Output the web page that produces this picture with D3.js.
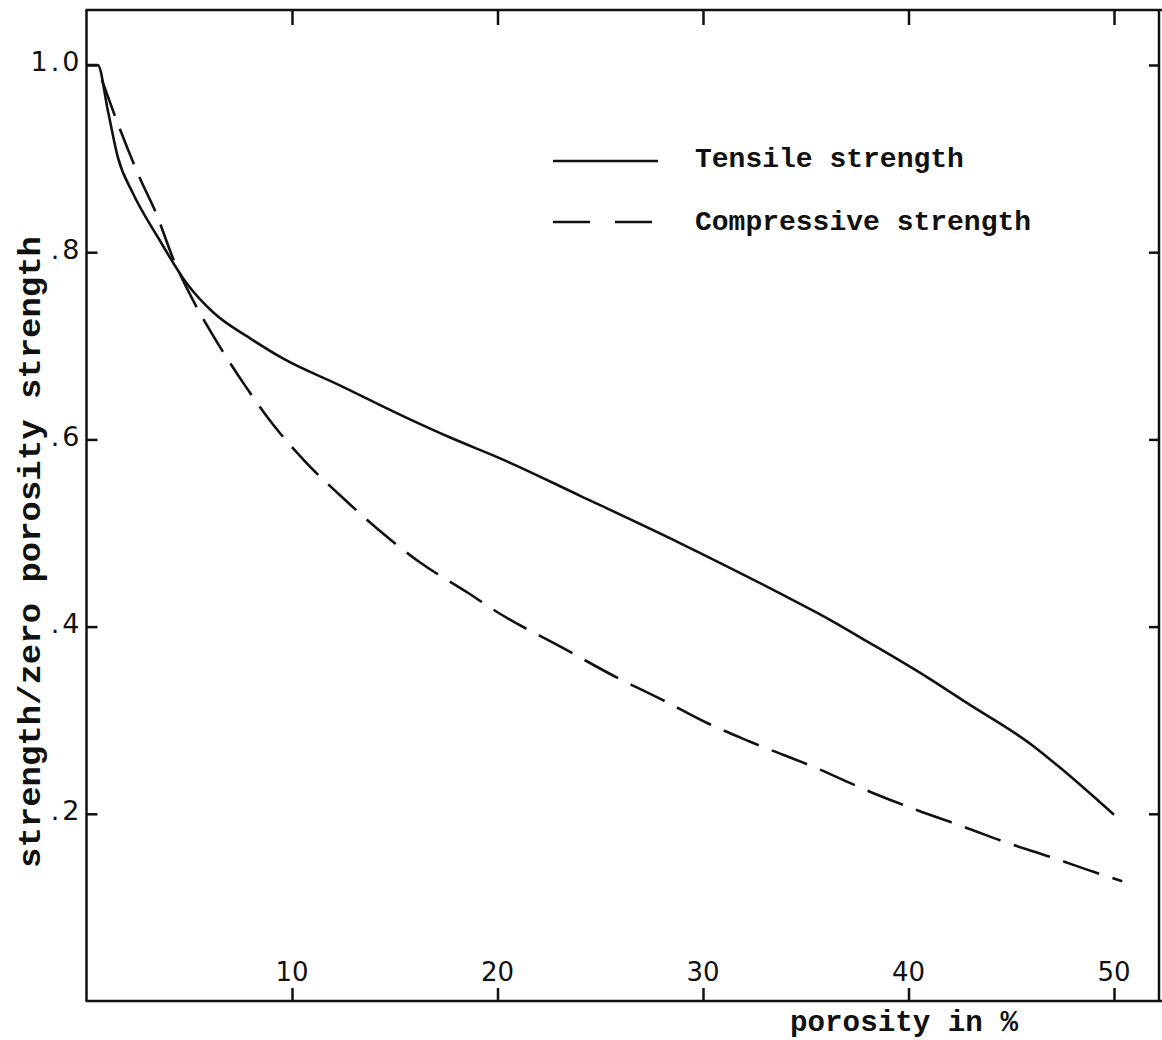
<!DOCTYPE html>
<html>
<head>
<meta charset="utf-8">
<script src="https://cdn.jsdelivr.net/npm/d3@7"></script>
<style>
  html, body { margin: 0; padding: 0; background: #fff; }
  svg { display: block; }
</style>
</head>
<body>
<svg id="chart" width="1162" height="1040"></svg>
<script>
// ---- data ----
const tensileX = [0, 0.55, 1.05, 1.53, 2.26, 3.5, 4.9, 6.2, 7.96, 9.6, 12.3, 15.3, 17.7, 20.1, 24.0, 28.9, 33.7, 36.2, 38.0, 40.9, 42.8, 46.1, 47.5, 50.0];
const tensileY = [1.0, 1.0, 0.950, 0.901, 0.863, 0.815, 0.766, 0.735, 0.708, 0.686, 0.658, 0.626, 0.602, 0.580, 0.540, 0.489, 0.436, 0.407, 0.384, 0.346, 0.319, 0.272, 0.247, 0.199];

const compressiveX = [0.75, 1.6, 2.6, 3.4, 4.2, 5.2, 6.35, 7.7, 9.0, 10.7, 12.6, 14.4, 16.2, 18.5, 20.1, 23.2, 25.6, 28.0, 30.2, 32.3, 35.5, 38.3, 40.4, 42.7, 44.8, 46.9, 49.0, 50.4];
const compressiveY = [0.984, 0.933, 0.879, 0.841, 0.794, 0.748, 0.704, 0.658, 0.618, 0.575, 0.535, 0.500, 0.469, 0.437, 0.414, 0.377, 0.348, 0.322, 0.297, 0.277, 0.249, 0.222, 0.204, 0.186, 0.169, 0.154, 0.138, 0.128];

const xTicks = [10, 20, 30, 40, 50];
const xTickLabels = ["10", "20", "30", "40", "50"];
const yTicks = [1.0, 0.8, 0.6, 0.4, 0.2];
const yTickLabels = ["1.0", ".8", ".6", ".4", ".2"];

const seriesNames = ["Tensile strength", "Compressive strength"];
const xTitle = "porosity in %";
const yTitle = "strength/zero porosity strength";

// ---- layout ----
const svg = d3.select("#chart");
const x = d3.scaleLinear().domain([0, 50]).range([86.5, 1114]);
const y = d3.scaleLinear().domain([0, 1]).range([1001, 65]);
const frameTop = 10, frameRight = 1159;
const ink = "#111";

const tensile = tensileX.map((v, i) => [v, tensileY[i]]);
const compressive = compressiveX.map((v, i) => [v, compressiveY[i]]);

// frame
const frame = svg.append("g").attr("stroke", ink).attr("stroke-width", 2.5).attr("fill", "none");
frame.append("line").attr("x1", x(0)).attr("x2", x(0)).attr("y1", frameTop).attr("y2", y(0));
frame.append("line").attr("x1", x(0) - 1).attr("x2", 1162).attr("y1", y(0)).attr("y2", y(0));
frame.append("line").attr("x1", x(0) - 1).attr("x2", 1162).attr("y1", frameTop).attr("y2", frameTop);
frame.append("line").attr("x1", frameRight).attr("x2", frameRight).attr("y1", frameTop).attr("y2", y(0));

// axes with inward ticks
const tickStyle = g => {
  g.select(".domain").remove();
  g.selectAll(".tick line").attr("stroke", ink).attr("stroke-width", 2.5);
};

svg.append("g").attr("transform", `translate(${x(0)},0)`)
  .call(d3.axisLeft(y).tickValues(yTicks).tickSize(-11).tickPadding(4)
    .tickFormat((d, i) => yTickLabels[i]))
  .call(tickStyle)
  .call(g => g.selectAll(".tick text")
    .attr("fill", ink)
    .attr("font-family", "DejaVu Sans")
    .attr("font-size", 27)
    .attr("letter-spacing", 3)
    .attr("dy", "0.22em"));

svg.append("g").attr("transform", `translate(${frameRight},0)`)
  .call(d3.axisRight(y).tickValues(yTicks).tickSize(-10).tickFormat(""))
  .call(tickStyle);

svg.append("g").attr("transform", `translate(0,${y(0)})`)
  .call(d3.axisBottom(x).tickValues(xTicks).tickSize(-13).tickFormat(""))
  .call(tickStyle);

svg.append("g").attr("transform", `translate(0,${frameTop})`)
  .call(d3.axisTop(x).tickValues(xTicks).tickSize(-15).tickFormat(""))
  .call(tickStyle);

// x tick labels (inside, above bottom axis)
svg.append("g").selectAll("text").data(xTicks).join("text")
  .attr("x", d => x(d))
  .attr("y", y(0) - 20)
  .attr("text-anchor", "middle")
  .attr("fill", ink)
  .attr("font-family", "DejaVu Sans")
  .attr("font-size", 26)
  .text((d, i) => xTickLabels[i]);

// curves
const line = d3.line().x(d => x(d[0])).y(d => y(d[1])).curve(d3.curveMonotoneX);

svg.append("path").datum(tensile)
  .attr("d", line)
  .attr("fill", "none").attr("stroke", ink).attr("stroke-width", 2.6)
  .attr("stroke-linejoin", "round");

svg.append("path").datum(compressive)
  .attr("d", line)
  .attr("fill", "none").attr("stroke", ink).attr("stroke-width", 2.6)
  .attr("stroke-dasharray", "38,14");

// legend
const legend = svg.append("g");
legend.append("line").attr("x1", 553).attr("x2", 658).attr("y1", 161).attr("y2", 161)
  .attr("stroke", ink).attr("stroke-width", 2.5);
legend.append("line").attr("x1", 553).attr("x2", 658).attr("y1", 222).attr("y2", 222)
  .attr("stroke", ink).attr("stroke-width", 2.5).attr("stroke-dasharray", "37,25");
legend.selectAll("text").data(seriesNames).join("text")
  .attr("x", 695)
  .attr("y", (d, i) => i === 0 ? 167 : 230)
  .attr("fill", ink)
  .attr("font-family", "Liberation Mono")
  .attr("font-weight", "bold")
  .attr("font-size", 28)
  .text(d => d);

// axis titles
svg.append("text")
  .attr("x", 790).attr("y", 1031)
  .attr("fill", ink)
  .attr("font-family", "Liberation Mono")
  .attr("font-weight", "bold")
  .attr("font-size", 29)
  .attr("textLength", 228).attr("lengthAdjust", "spacingAndGlyphs")
  .text(xTitle);

svg.append("text")
  .attr("transform", "translate(40,552) rotate(-90)")
  .attr("text-anchor", "middle")
  .attr("fill", ink)
  .attr("font-family", "Liberation Mono")
  .attr("font-weight", "bold")
  .attr("font-size", 32)
  .attr("textLength", 632).attr("lengthAdjust", "spacingAndGlyphs")
  .text(yTitle);
</script>
</body>
</html>
